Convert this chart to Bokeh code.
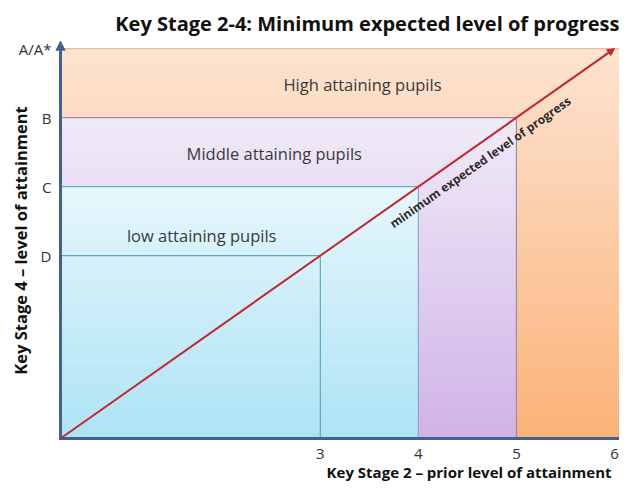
import numpy as np
from bokeh.plotting import figure
from bokeh.models import Range1d, FixedTicker, Arrow, NormalHead, Title
from bokeh.core.properties import value
from bokeh.embed import file_html
from bokeh.resources import INLINE

# ---------------- data ----------------
title_text = "Key Stage 2-4: Minimum expected level of progress"
x_title = "Key Stage 2 \u2013 prior level of attainment"
y_title = "Key Stage 4 \u2013 level of attainment"

ks2_levels = [3, 4, 5, 6]
ks2_labels = ["3", "4", "5", "6"]
ks4_levels = [3, 4, 5, 6]          # D, C, B, A/A*
ks4_labels = ["D", "C", "B", "A/A*"]

# minimum expected progress: KS2 level -> KS4 grade
progress_ks2 = [3, 4, 5, 6]
progress_ks4 = [3, 4, 5, 6]

groups = ["low attaining pupils", "Middle attaining pupils", "High attaining pupils"]
group_ks2_edge = [4, 5, 6.1]
group_ks4_edge = [4, 5, 6]

origin = 0.35   # axes corner (same value on both axes, so y = x is the progress line)

# ---------------- figure ----------------
FONT = "Open Sans"
W, H = 619, 482
BL, BR, BT, BB = 54, 0, 40, 42
SX = 98.05   # px per KS2 level
SY = 69.0    # px per KS4 grade
X0 = origin - 6 / SX
X1 = X0 + (W - BL - BR) / SX
Y0 = origin - 2 / SY
Y1 = Y0 + (H - BT - BB) / SY

p = figure(width=W, height=H, output_backend="svg", toolbar_location=None,
           x_range=Range1d(X0, X1), y_range=Range1d(Y0, Y1),
           min_border_left=BL, min_border_right=BR, min_border_top=BT, min_border_bottom=BB)
p.outline_line_color = None
p.grid.visible = False
p.background_fill_color = "white"

def hex2rgb(h):
    h = h.lstrip("#")
    return np.array([int(h[i:i + 2], 16) for i in (0, 2, 4)], dtype=float)

def rgb2hex(c):
    return "#%02x%02x%02x" % tuple(int(round(v)) for v in c)

def gradient_quad(x_left, x_right, y_bottom, y_top, c_top, c_bottom, n=60):
    edges = np.linspace(y_bottom, y_top, n + 1)
    ct, cb = hex2rgb(c_top), hex2rgb(c_bottom)
    cols = []
    for i in range(n):
        t = (i + 0.5) / n
        cols.append(rgb2hex(cb + (ct - cb) * t))
    p.quad(left=[x_left] * n, right=[x_right] * n, bottom=edges[:-1], top=edges[1:],
           fill_color=cols, line_color=cols, line_width=0.6)

region_colors = {
    "High attaining pupils": ("#fde3d0", "#fbb278"),
    "Middle attaining pupils": ("#f0ebf8", "#d0b3e8"),
    "low attaining pupils": ("#e6f7fc", "#ade4f5"),
}
for g, xe, ye in reversed(list(zip(groups, group_ks2_edge, group_ks4_edge))):
    ct, cb = region_colors[g]
    gradient_quad(origin, xe, origin, ye, ct, cb)

# boundary lines
line_cols_h = ["#5ea8ba", "#6aaec6", "#9a8ca6", "#e6bca4"]
line_cols_v = ["#5ea8ba", "#8ea6c8", "#9a8ca6", None]
for xv, yv, ch, cv in zip(ks2_levels, ks4_levels, line_cols_h, line_cols_v):
    xr = xv if cv is not None else X1
    p.segment(x0=[origin], y0=[yv], x1=[xr], y1=[yv], line_color=ch, line_width=1.2)
    if cv is not None:
        p.segment(x0=[xv], y0=[origin], x1=[xv], y1=[yv], line_color=cv, line_width=1.2)

# axis lines drawn as glyphs
AX = "#41618f"
p.segment(x0=[origin - 0.015], y0=[origin], x1=[X1], y1=[origin], line_color=AX, line_width=3)
p.add_layout(Arrow(end=NormalHead(size=9, fill_color=AX, line_color=AX),
                   x_start=origin, y_start=origin, x_end=origin, y_end=Y1 - 0.01,
                   line_color=AX, line_width=3))

# progress line
RED = "#c1272d"
p.add_layout(Arrow(end=NormalHead(size=7, fill_color=RED, line_color=RED),
                   x_start=origin, y_start=origin,
                   x_end=progress_ks2[-1], y_end=progress_ks4[-1],
                   line_color=RED, line_width=2))

# region labels
label_pos = {"High attaining pupils": (3.43, 5.48),
             "Middle attaining pupils": (2.53, 4.48),
             "low attaining pupils": (1.79, 3.29)}
for g in groups:
    lx, ly = label_pos[g]
    p.text(x=[lx], y=[ly], text=[g], text_align="center", text_baseline="middle",
           text_font=value(FONT), text_font_size="16.5px", text_color="#3a3a3a")

# rotated caption along the progress line
ang = np.arctan(((progress_ks4[-1] - origin) * SY) / ((progress_ks2[-1] - origin) * SX))
cx = 4.63
cy = origin + (cx - origin) * (progress_ks4[-1] - origin) / (progress_ks2[-1] - origin) - 19 / SY
p.text(x=[cx], y=[cy], text=["minimum expected level of progress"],
       angle=ang, text_align="center", text_baseline="middle",
       text_font=value(FONT), text_font_size="12px", text_font_style="bold",
       text_color="#2a2a2a")

# axes (tick labels only)
p.xaxis.ticker = FixedTicker(ticks=ks2_levels)
p.xaxis.major_label_overrides = {k: v for k, v in zip(ks2_levels, ks2_labels)}
p.yaxis.ticker = FixedTicker(ticks=ks4_levels)
p.yaxis.major_label_overrides = {k: v for k, v in zip(ks4_levels, ks4_labels)}
for ax in (p.xaxis, p.yaxis):
    ax.axis_line_color = None
    ax.major_tick_line_color = None
    ax.minor_tick_line_color = None
    ax.major_tick_out = 0
    ax.major_tick_in = 0
    ax.major_label_text_font = FONT
    ax.major_label_text_font_size = "15px"
    ax.major_label_text_color = "#333333"
p.xaxis.major_label_standoff = 8
p.yaxis.major_label_standoff = 3

p.yaxis.axis_label = y_title
p.yaxis.axis_label_text_font = FONT
p.yaxis.axis_label_text_font_size = "16.5px"
p.yaxis.axis_label_text_font_style = "bold"
p.yaxis.axis_label_text_color = "#111111"
p.yaxis.axis_label_standoff = -16

p.title.text = title_text
p.title.align = "right"
p.title.text_font = FONT
p.title.text_font_size = "20px"
p.title.text_font_style = "bold"
p.title.text_color = "#111111"
p.title.standoff = 8

p.add_layout(Title(text=x_title, align="right", offset=8, standoff=-3,
                   text_font=FONT, text_font_size="15px", text_font_style="bold",
                   text_color="#111111"), "below")

open("out.html", "w").write(file_html(p, INLINE))
